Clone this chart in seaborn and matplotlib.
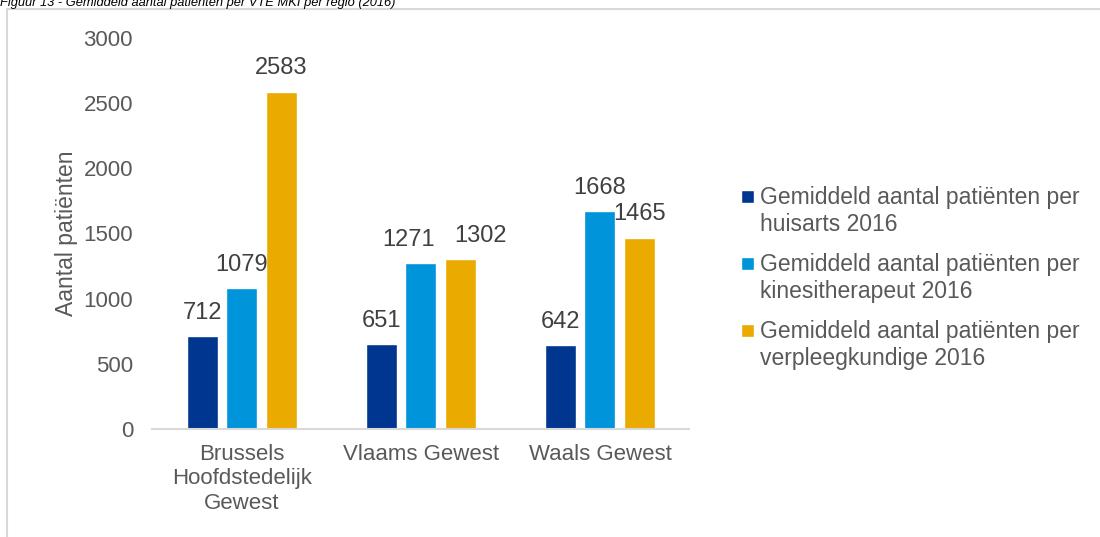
import pandas as pd
import matplotlib
matplotlib.use("Agg")
import matplotlib.pyplot as plt
from matplotlib.lines import Line2D
from matplotlib.patches import Rectangle
from matplotlib.legend_handler import HandlerPatch
import seaborn as sns

# --- data ---
regions = ["Brussels\nHoofdstedelijk\nGewest", "Vlaams Gewest", "Waals Gewest"]
series = [
    "Gemiddeld aantal patiënten per\nhuisarts 2016",
    "Gemiddeld aantal patiënten per\nkinesitherapeut 2016",
    "Gemiddeld aantal patiënten per\nverpleegkundige 2016",
]
huisarts = [712, 651, 642]
kine = [1079, 1271, 1668]
verpleeg = [2583, 1302, 1465]
colors = ["#00368F", "#0094DB", "#EBAA00"]
title = "Figuur 13 - Gemiddeld aantal patiënten per VTE MKI per regio (2016)"

rows = []
for s, vals in zip(series, [huisarts, kine, verpleeg]):
    for r, v in zip(regions, vals):
        rows.append({"regio": r, "reeks": s, "waarde": v})
df = pd.DataFrame(rows)

sns.set_style("white")
plt.rcParams["font.family"] = ["Liberation Sans", "DejaVu Sans"]

fig = plt.figure(figsize=(11, 5.37), dpi=100)
ax = fig.add_axes([0.1386, 0.2011, 0.4882, 0.7289])

sns.barplot(data=df, x="regio", y="waarde", hue="reeks", palette=colors,
            width=0.662, gap=0.215, ax=ax, saturation=1, legend=True)

# value labels; the two in the middle group are pushed apart like in Excel
shifts = {(1, 1): -8.6, (2, 1): 14.4}
for i, cont in enumerate(ax.containers):
    anns = ax.bar_label(cont, fmt="%d", padding=9, fontsize=17, color="#404040")
    for j, ann in enumerate(anns):
        if (i, j) in shifts:
            ann.xyann = (shifts[(i, j)], 9)

ax.set_ylim(0, 3000)
ax.set_xlim(-0.5, 2.5)
ax.set_yticks(range(0, 3001, 500))
ax.tick_params(axis="both", length=0, labelsize=16, labelcolor="#595959")
ax.tick_params(axis="y", pad=14)
ax.tick_params(axis="x", pad=11)
ax.set_xlabel("")
ax.set_ylabel("Aantal patiënten", fontsize=16.5, color="#595959", labelpad=4)
for side in ["top", "right", "left"]:
    ax.spines[side].set_visible(False)
ax.spines["bottom"].set_color("#D9D9D9")
ax.spines["bottom"].set_linewidth(1.5)


def square(legend, orig_handle, xdescent, ydescent, width, height, fontsize):
    s = 9
    return Rectangle((-xdescent, -ydescent + (height - s) / 2), s, s)


handles, labels = ax.get_legend_handles_labels()
leg = ax.legend(handles, labels, loc="upper left",
                bbox_to_anchor=(730 / 1100, 1 - 175 / 537),
                bbox_transform=fig.transFigure, frameon=False,
                fontsize=16.5, handlelength=0.6, handleheight=1.0,
                handletextpad=0.2, labelspacing=0.75, borderpad=0,
                handler_map={Rectangle: HandlerPatch(patch_func=square)})
for t in leg.get_texts():
    t.set_color("#595959")
for col in leg._legend_handle_box.get_children():
    for item in col.get_children():
        item.align = "top"

# frame around the chart and the cut-off caption
fig.add_artist(Line2D([7 / 1100, 7 / 1100], [0, 1 - 9 / 537],
                      transform=fig.transFigure, color="#D9D9D9", lw=1.5))
fig.add_artist(Line2D([7 / 1100, 1], [1 - 9 / 537, 1 - 9 / 537],
                      transform=fig.transFigure, color="#D9D9D9", lw=1.5))
fig.text(0.0, 1 - 6 / 537, title, fontsize=9.3, style="italic",
         color="#000000", va="baseline", ha="left")

fig.savefig("out.png", dpi=100)
